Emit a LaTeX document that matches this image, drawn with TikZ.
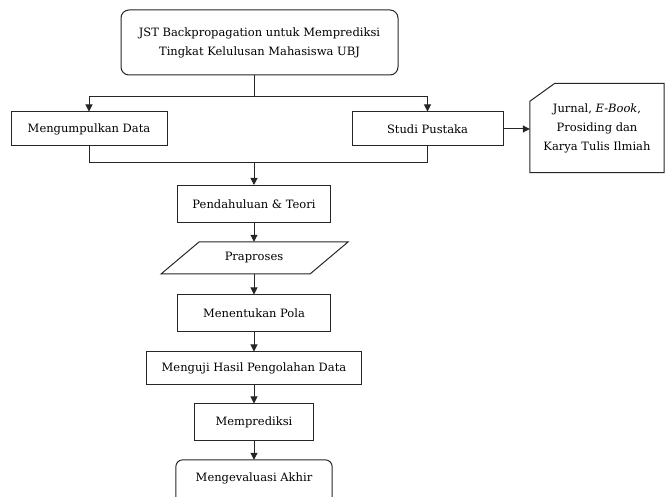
\documentclass[tikz,border=0pt]{standalone}
\usepackage{fontspec}
\setmainfont{DejaVu Serif}
\usetikzlibrary{arrows.meta,calc}
\begin{document}
\begin{tikzpicture}[x=1pt,y=-1pt,
  every node/.style={font=\fontsize{11.5}{19}\selectfont, inner sep=0pt, align=center, text=black},
  line/.style={draw=black!85, line width=1pt},
  box/.style={line},
  arr/.style={line, -{Triangle[length=7pt,width=7pt]}}]
\useasboundingbox (0,0) rectangle (665,497);
\clip (0,0) rectangle (665,497);

% title and the two branches
\node[box, rounded corners=8pt, minimum width=277pt, minimum height=65pt] (top) at (259.5,42.5)
  {JST Backpropagation untuk Memprediksi\\Tingkat Kelulusan Mahasiswa UBJ};
\node[box, minimum width=156pt, minimum height=34pt] (data) at (89,129) {Mengumpulkan Data};
\node[box, minimum width=151pt, minimum height=34pt] (pustaka) at (427.5,129) {Studi Pustaka};
\node[minimum width=134pt, minimum height=89pt] (jurnal) at (597,128)
  {Jurnal, \textit{E-Book},\\Prosiding dan\\Karya Tulis Ilmiah};
% document symbol with a cut top-left corner
\draw[line] (jurnal.south west) -- ($(jurnal.north west)+(0,18)$) -- ($(jurnal.north west)+(25,0)$)
  -- (jurnal.north east) -- (jurnal.south east) -- cycle;

% main sequence
\node[box, minimum width=153pt, minimum height=37pt] (pend) at (254,204) {Pendahuluan \& Teori};
\node[minimum width=112pt, minimum height=32pt] (prap) at (254,258) {Praproses};
\draw[line] ($(prap.center)+(-93,16)$) -- ++(38,-32) -- ++(149,0) -- ++(-38,32) -- cycle;
\node[box, minimum width=153pt, minimum height=37pt] (pola) at (254,313.5) {Menentukan Pola};
\node[box, minimum width=215pt, minimum height=33pt] (uji) at (254,368.5) {Menguji Hasil Pengolahan Data};
\node[box, minimum width=119pt, minimum height=37pt] (pred) at (254,422.5) {Memprediksi};
\node[minimum width=156pt, minimum height=37pt] (eval) at (254,478.5) {Mengevaluasi Akhir};
\draw[line, rounded corners=7pt] ([yshift=-30pt]eval.south west) |- (eval.north east)
  -- ([yshift=-30pt]eval.south east);

% connectors
\coordinate (split) at (254,97);
\coordinate (join) at (254,163);
\draw[line] (split |- top.south) -- (split);
\draw[arr] (split) -| (data.north);
\draw[arr] (split) -| (pustaka.north);
\draw[arr] (pustaka.east) -- (pustaka.east -| jurnal.west);
\draw[line] (data.south) |- (join);
\draw[line] (pustaka.south) |- (join);
\draw[arr] (join) -- (pend.north);
\draw[arr] (pend.south) -- (prap.north);
\draw[arr] (prap.south) -- (pola.north);
\draw[arr] (pola.south) -- (uji.north);
\draw[arr] (uji.south) -- (pred.north);
\draw[arr] (pred.south) -- (eval.north);
\end{tikzpicture}
\end{document}
